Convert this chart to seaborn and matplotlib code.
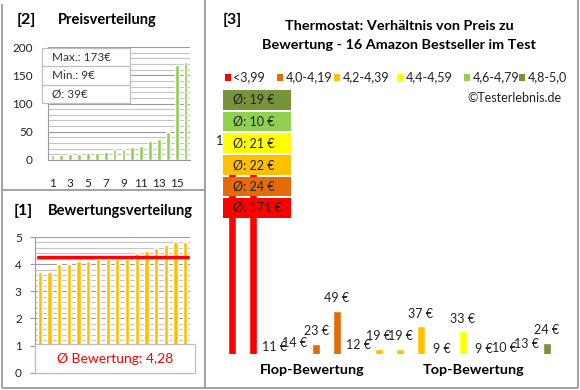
import numpy as np
import pandas as pd
import matplotlib
matplotlib.use("Agg")
import matplotlib.pyplot as plt
import seaborn as sns
from matplotlib.patches import Rectangle

# Data
prices_sorted = [9, 9, 10, 11, 12, 13, 14, 19, 19, 23, 24, 33, 37, 49, 169, 173]
ratings_sorted = [3.7, 3.7, 4.0, 4.0, 4.1, 4.1, 4.2, 4.2, 4.2, 4.2, 4.4, 4.5, 4.6, 4.7, 4.8, 4.8]
avg_rating = 4.28

# main chart: products ordered by rating group
main_prices = [173, 169, 11, 14, 23, 49, 12, 19, 19, 37, 9, 33, 9, 10, 13, 24]
main_groups = ["<3,99", "<3,99", "4,0-4,19", "4,0-4,19", "4,0-4,19", "4,0-4,19",
               "4,2-4,39", "4,2-4,39", "4,2-4,39", "4,2-4,39", "4,4-4,59", "4,4-4,59",
               "4,6-4,79", "4,6-4,79", "4,8-5,0", "4,8-5,0"]
group_names = ["<3,99", "4,0-4,19", "4,2-4,39", "4,4-4,59", "4,6-4,79", "4,8-5,0"]
group_colors = ["#FF0000", "#E36C09", "#FFC000", "#FFFF00", "#92D050", "#77933C"]

sns.set_theme(style="white")
plt.rcParams["font.family"] = ["Lato", "DejaVu Sans"]

W, H = 580, 390
fig = plt.figure(figsize=(5.8, 3.9), dpi=100)


def box(x0, y0, x1, y1):
    return [x0 / W, 1 - y1 / H, (x1 - x0) / W, (y1 - y0) / H]


def rnd(v):
    # excel style rounding (half up)
    return int(np.floor(v + 0.5))


txt = "#222222"
grid_major = "#9A9A9A"
grid_minor = "#C4C4C4"

# ---- [2] Preisverteilung
ax2 = fig.add_axes(box(48, 47, 190, 160))
df2 = pd.DataFrame({"pos": np.arange(16), "price": prices_sorted})
sns.barplot(data=df2, x="pos", y="price", color="#92D050", width=0.42,
            saturation=1, ax=ax2, zorder=3)
ax2.set_xlim(-0.5, 15.5)
ax2.set_ylim(0, 200)
ax2.set_yticks([0, 50, 100, 150, 200])
ax2.set_yticks(np.arange(0, 201, 10), minor=True)
ax2.grid(axis="y", which="major", color=grid_major, lw=0.8, zorder=0)
ax2.grid(axis="y", which="minor", color=grid_minor, lw=0.8, zorder=0)
ax2.set_xticks(range(0, 16, 2))
ax2.set_xticklabels([str(i + 1) for i in range(0, 16, 2)])
ax2.tick_params(axis="x", length=0, pad=13, labelsize=8.5, labelcolor=txt)
ax2.tick_params(axis="y", which="both", length=0, pad=11, labelsize=8.5, labelcolor=txt)
ax2.set_xlabel("")
ax2.set_ylabel("")
for s in ["top", "right"]:
    ax2.spines[s].set_visible(False)
for s in ["left", "bottom"]:
    ax2.spines[s].set_color(grid_major)
    ax2.spines[s].set_linewidth(0.8)

# ---- [1] Bewertungsverteilung
ax1 = fig.add_axes(box(35, 237, 190, 372.7))
df1 = pd.DataFrame({"pos": np.arange(16), "rating": ratings_sorted})
sns.barplot(data=df1, x="pos", y="rating", color="#FFC000", width=0.44,
            saturation=1, ax=ax1, zorder=3)
ax1.axhline(avg_rating, xmin=0.02, xmax=0.985, color="#FF0000", lw=2.4, zorder=4)
ax1.set_xlim(-0.5, 15.5)
ax1.set_ylim(0, 5)
ax1.set_yticks(range(0, 6))
ax1.set_yticks(np.arange(0, 5.01, 0.2), minor=True)
ax1.grid(axis="y", which="major", color=grid_major, lw=0.8, zorder=0)
ax1.grid(axis="y", which="minor", color=grid_minor, lw=0.8, zorder=0)
ax1.set_xticks([])
ax1.tick_params(axis="y", which="major", length=3.5, width=0.8, color=grid_major,
                pad=6, labelsize=8.5, labelcolor=txt, left=True)
ax1.tick_params(axis="y", which="minor", length=0)
ax1.set_xlabel("")
ax1.set_ylabel("")
for s in ["top", "right"]:
    ax1.spines[s].set_visible(False)
for s in ["left", "bottom"]:
    ax1.spines[s].set_color(grid_major)
    ax1.spines[s].set_linewidth(0.8)

# ---- [3] Preis vs. Bewertung
ax3 = fig.add_axes(box(221.5, 151, 557.5, 354))
df3 = pd.DataFrame({"pos": np.arange(16), "price": main_prices, "group": main_groups})
sns.barplot(data=df3, x="pos", y="price", hue="group", hue_order=group_names,
            palette=group_colors, dodge=False, width=0.38, saturation=1,
            legend=False, ax=ax3)
ax3.set_xlim(-0.5, 15.5)
ax3.set_ylim(15, 175)
ax3.axis("off")
for i, p in enumerate(main_prices):
    ax3.annotate(f"{p} €", (i, p), xytext=(0, 9), textcoords="offset points",
                 ha="center", va="center", fontsize=9, color=txt,
                 annotation_clip=False)

# ---- overlay in pixel coords for frames, titles, boxes
ov = fig.add_axes([0, 0, 1, 1], zorder=10)
ov.set_xlim(0, W)
ov.set_ylim(H, 0)
ov.axis("off")
ov.patch.set_alpha(0)

frame = "#9B9B9B"
for xs, ys in [([2, 2], [4, 388]), ([2, 578], [388, 388]), ([578, 578], [0, 388]),
               ([205, 205], [0, 388]), ([2, 205], [190, 190])]:
    ov.plot(xs, ys, color=frame, lw=1.3, solid_capstyle="butt")

ov.text(17, 20, "[2]", fontsize=11.5, fontweight="bold", va="center", color="black")
ov.text(58, 20, "Preisverteilung", fontsize=10.5, fontweight="bold", va="center", color="black")
ov.text(14, 211, "[1]", fontsize=11.5, fontweight="bold", va="center", color="black")
ov.text(48, 211, "Bewertungsverteilung", fontsize=10.5, fontweight="bold", va="center", color="black")
ov.text(223, 20, "[3]", fontsize=11.5, fontweight="bold", va="center", color="black")
ov.text(399, 26, "Thermostat: Verhältnis von Preis zu", fontsize=10.4,
        fontweight="bold", ha="center", va="center", color="black")
ov.text(399, 45, "Bewertung - 16 Amazon Bestseller im Test", fontsize=10.4,
        fontweight="bold", ha="center", va="center", color="black")

# stats box of panel [2]
ov.add_patch(Rectangle((42, 48), 88, 55, facecolor="white", edgecolor="#BFBFBF", lw=0.9))
ov.plot([42, 130], [66, 66], color="#BFBFBF", lw=0.9)
ov.plot([42, 130], [84.5, 84.5], color="#BFBFBF", lw=0.9)
stats = [f"Max.: {max(prices_sorted)}€", f"Min.: {min(prices_sorted)}€",
         f"Ø: {rnd(np.mean(prices_sorted))}€"]
for k, s in enumerate(stats):
    ov.text(52, 57.5 + k * 18, s, fontsize=8.5, va="center", color="#333333")

# average rating box of panel [1]
ov.add_patch(Rectangle((35, 344), 160, 29, facecolor="white", edgecolor="#BFBFBF", lw=0.9))
ov.text(115, 359, f"Ø Bewertung: {avg_rating:.2f}".replace(".", ","), fontsize=10,
        ha="center", va="center", color="#FF0000")

# legend of panel [3]
leg_x = [225, 277, 334, 397, 464, 519]
for x, name, c in zip(leg_x, group_names, group_colors):
    ov.add_patch(Rectangle((x, 74), 6, 6.5, facecolor=c, edgecolor="none"))
    ov.text(x + 8.5, 77.5, name, fontsize=9, va="center", color=txt)
ov.text(562, 98, "©Testerlebnis.de", fontsize=9, ha="right", va="center", color=txt)

# group average boxes (from top: best rating to worst)
box_tops = [90, 111.5, 133, 155, 176.5, 198]
for k, name in enumerate(group_names[::-1]):
    vals = [p for p, g in zip(main_prices, main_groups) if g == name]
    c = group_colors[::-1][k]
    ov.add_patch(Rectangle((223, box_tops[k]), 68, 19.5, facecolor=c, edgecolor="none"))
    ov.text(233, box_tops[k] + 10, f"Ø: {rnd(np.mean(vals))} €", fontsize=9,
            va="center", color=txt)

ov.text(312, 370, "Flop-Bewertung", fontsize=10.4, fontweight="bold", ha="center",
        va="center", color="black")
ov.text(474, 370, "Top-Bewertung", fontsize=10.4, fontweight="bold", ha="center",
        va="center", color="black")

fig.savefig("out.png", dpi=100, facecolor="white")
